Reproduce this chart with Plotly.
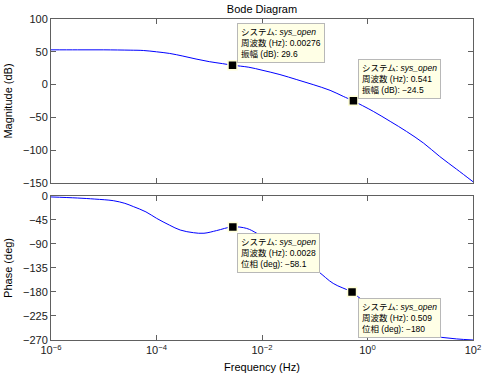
import plotly.graph_objects as go
from plotly.subplots import make_subplots

# ---- data (log10 of frequency in Hz) ----
mag_logf = [-6, -5.5, -5, -4.5, -4.25, -4, -3.75, -3.5, -3.25, -3, -2.75, -2.56,
            -2.25, -2, -1.66, -1.34, -1.03, -0.71, -0.46, -0.28, 0.11, 0.43,
            0.74, 1.06, 1.37, 1.69, 2]
mag_db = [53, 53, 53, 52.5, 52, 50, 47.5, 43.5, 39, 35, 32, 29.6,
          26.5, 22, 15.3, 7.6, 0, -8.7, -17.9, -24.5, -40.8, -56,
          -71.4, -89, -109.6, -129, -148]

ph_logf = [-6, -5.5, -5.17, -4.82, -4.6, -4.44, -4.2, -4, -3.75, -3.55, -3.3,
           -3.1, -2.86, -2.56, -2.29, -2.1, -1.8, -1.5, -1.2, -0.93, -0.65,
           -0.3, -0.18, 0.1, 0.4, 0.7, 1.12, 1.4, 1.69, 2]
ph_deg = [-2, -4, -6, -9, -14, -20, -30, -42, -55, -64, -69,
          -70, -65, -58.1, -61, -70, -88, -106, -124, -142, -164,
          -180, -189, -210, -232, -248, -261, -265, -268, -270]

# data tips
mag_tip_f = [0.00276, 0.541]
mag_tip_v = [29.6, -24.5]
ph_tip_f = [0.0028, 0.509]
ph_tip_v = [-58.1, -180]

x_tickvals = [1e-6, 1e-4, 1e-2, 1e0, 1e2]
x_ticktext = ["10<sup>−6</sup>", "10<sup>−4</sup>", "10<sup>−2</sup>",
              "10<sup>0</sup>", "10<sup>2</sup>"]
mag_ticks = [100, 50, 0, -50, -100, -150]
ph_ticks = [0, -45, -90, -135, -180, -225, -270]

mag_f = [10 ** v for v in mag_logf]
ph_f = [10 ** v for v in ph_logf]

fig = make_subplots(rows=2, cols=1, shared_xaxes=False)

line = dict(color="#0000FF", width=1)
fig.add_trace(go.Scatter(x=mag_f, y=mag_db, mode="lines", line=line,
                         line_shape="spline", hoverinfo="skip"), row=1, col=1)
fig.add_trace(go.Scatter(x=ph_f, y=ph_deg, mode="lines", line=line,
                         line_shape="spline", hoverinfo="skip"), row=2, col=1)

mk = dict(symbol="square", size=9, color="black",
          line=dict(color="#FFFFD8", width=1.5))
fig.add_trace(go.Scatter(x=mag_tip_f, y=mag_tip_v, mode="markers", marker=mk),
              row=1, col=1)
fig.add_trace(go.Scatter(x=ph_tip_f, y=ph_tip_v, mode="markers", marker=mk),
              row=2, col=1)

FONT = "Liberation Sans, Arial, Noto Sans CJK JP, sans-serif"
TIPFONT = "Liberation Sans, Noto Sans CJK JP, sans-serif"

axis_common = dict(
    showgrid=False, zeroline=False, showline=True, linecolor="#606060",
    linewidth=1, mirror="allticks", ticks="inside", ticklen=5,
    tickcolor="#606060", tickfont=dict(family=FONT, size=11, color="#202020"),
    automargin=False,
)

fig.update_xaxes(type="log", range=[-6, 2], tickvals=x_tickvals,
                 ticktext=x_ticktext, **axis_common)
fig.update_xaxes(showticklabels=False, row=1, col=1)
fig.update_xaxes(title=dict(text="Frequency (Hz)", standoff=8,
                            font=dict(family=FONT, size=11, color="black")),
                 row=2, col=1)

fig.update_yaxes(range=[-150, 100], tickvals=mag_ticks, row=1, col=1,
                 title=dict(text="Magnitude (dB)", standoff=8,
                            font=dict(family=FONT, size=11, color="black")),
                 **axis_common)
fig.update_yaxes(range=[-270, 0], tickvals=ph_ticks, row=2, col=1,
                 title=dict(text="Phase (deg)", standoff=8,
                            font=dict(family=FONT, size=11, color="black")),
                 **axis_common)

fig.update_layout(
    yaxis=dict(domain=[0.489, 1.0]),
    yaxis2=dict(domain=[0.0, 0.449]),
)


def tip(xref, yref, xlog, y, lines):
    fig.add_annotation(
        x=xlog, y=y, xref=xref, yref=yref, xanchor="left", yanchor="top",
        text="<br>".join(lines), showarrow=False, align="left",
        font=dict(family=TIPFONT, size=8.5, color="black"),
        bgcolor="#FFFFE6", bordercolor="#B8B8B8", borderwidth=1, borderpad=3,
    )


tip("x", "y", -2.47, 93.3,
    ["システム: <i>sys_open</i>", "周波数 (Hz): 0.00276", "振幅 (dB): 29.6"])
tip("x", "y", -0.18, 39.8,
    ["システム: <i>sys_open</i>", "周波数 (Hz): 0.541", "振幅 (dB): −24.5"])
tip("x2", "y2", -2.47, -69.4,
    ["システム: <i>sys_open</i>", "周波数 (Hz): 0.0028", "位相 (deg): −58.1"])
tip("x2", "y2", -0.18, -191,
    ["システム: <i>sys_open</i>", "周波数 (Hz): 0.509", "位相 (deg): −180"])

fig.update_layout(
    width=487, height=381,
    margin=dict(l=51, r=14, t=19, b=41, autoexpand=False),
    paper_bgcolor="white", plot_bgcolor="white",
    showlegend=False,
    title=dict(text="Bode Diagram", x=0.5, xref="paper", y=0.985,
               yref="container", yanchor="top", automargin=False,
               font=dict(family=FONT, size=11, color="black")),
)

fig.write_html("out.html",
               config={"displayModeBar": False},
               post_script="document.body.style.margin='0';"
                           "document.body.style.overflow='hidden';")
